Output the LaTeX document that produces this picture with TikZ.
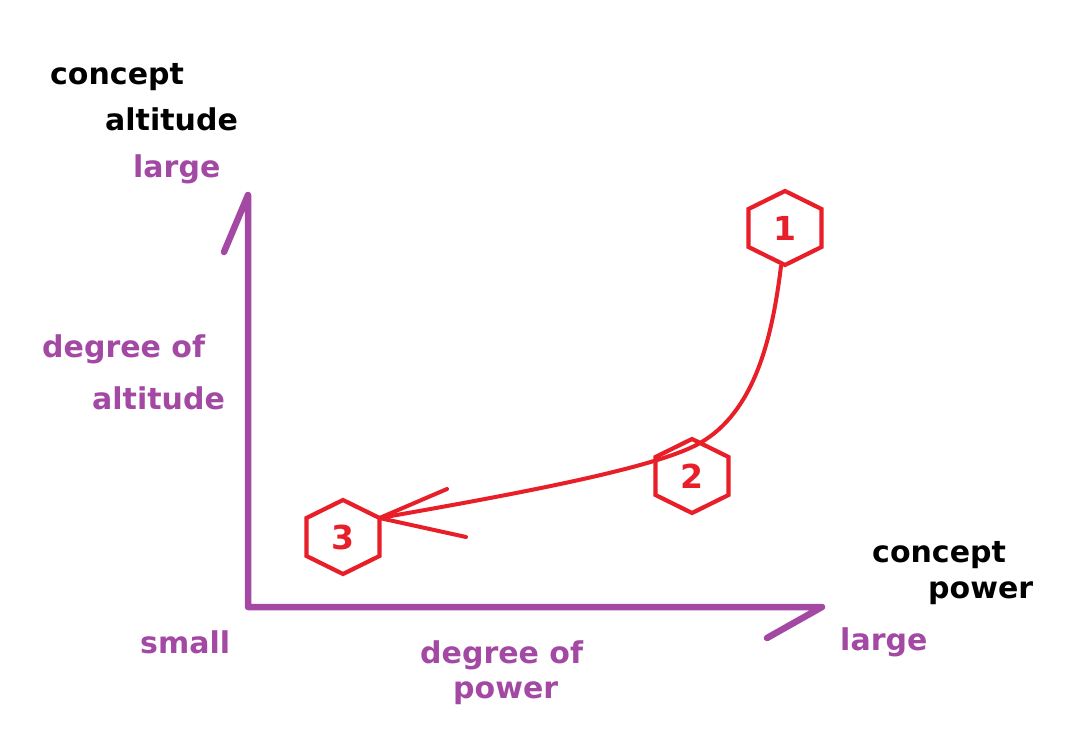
\documentclass[tikz,border=0pt]{standalone}
\usepackage{fontspec}
\setmainfont{DejaVu Sans}
\usetikzlibrary{calc}
\definecolor{axpurple}{RGB}{163,73,164}
\definecolor{penred}{RGB}{232,30,40}
\tikzset{
  axisline/.style={draw=axpurple, line width=6.5pt, line cap=round, line join=round},
  redline/.style={draw=penred, line width=4pt, line cap=round, line join=round},
  hexline/.style={draw=penred, line width=4.2pt, line join=miter},
  lbl/.style={inner sep=0pt, anchor=base west, font=\fontsize{30}{30}\selectfont\bfseries},
  plbl/.style={lbl, text=axpurple},
  blbl/.style={lbl, text=black},
  num/.style={inner sep=0pt, text=penred, font=\fontsize{33}{33}\selectfont\bfseries}
}
\begin{document}
\begin{tikzpicture}[x=1pt, y=-1pt]
\useasboundingbox (0,0) rectangle (1091,751);
% axes
\coordinate (O) at (248,607);
\coordinate (ytop) at (248,195);
\coordinate (ytick) at (224,252);
\coordinate (xend) at (822,607);
\coordinate (xtick) at (767,638);
\draw[axisline] (ytick) -- (ytop) -- (O) -- (xend) -- (xtick);
% hexagons
\foreach \n/\x/\y in {1/785/228, 2/692/476, 3/343/537}{
  \node[num] (h\n) at (\x,\y) {\n};
  \coordinate (h\n-t) at (\x,\y-37);
  \coordinate (h\n-tr) at (\x+36.5,\y-19);
  \coordinate (h\n-br) at (\x+36.5,\y+19);
  \coordinate (h\n-b) at (\x,\y+37);
  \coordinate (h\n-bl) at (\x-36.5,\y+19);
  \coordinate (h\n-tl) at (\x-36.5,\y-19);
  \draw[hexline] (h\n-t) -- (h\n-tr) -- (h\n-br) -- (h\n-b) -- (h\n-bl) -- (h\n-tl) -- cycle;
}
% curve
\coordinate (start) at (781,266);
\coordinate (mid) at (700,443);
\coordinate (ah1) at (447,489);
\coordinate (ah2) at (466,537);
\draw[redline] (start) .. controls (772,340) and (754,412) .. (mid)
  .. controls (660,466) and (540,490) .. (h3-tr);
\draw[redline] (ah1) -- (h3-tr) -- (ah2);
% labels
\node[blbl] (c1) at (50,85) {concept};
\node[blbl] (c2) at (105,131) {altitude};
\node[plbl] (l1) at (133,178) {large};
\node[plbl] (d1) at (42,357) {degree of};
\node[plbl] (d2) at (92,409) {altitude};
\node[plbl] (s1) at (140,653) {small};
\node[plbl] (d3) at (420,663) {degree of};
\node[plbl] (d4) at (453,698) {power};
\node[plbl] (l2) at (840,650) {large};
\node[blbl] (c3) at (872,562) {concept};
\node[blbl] (c4) at (928,598) {power};
\end{tikzpicture}
\end{document}
